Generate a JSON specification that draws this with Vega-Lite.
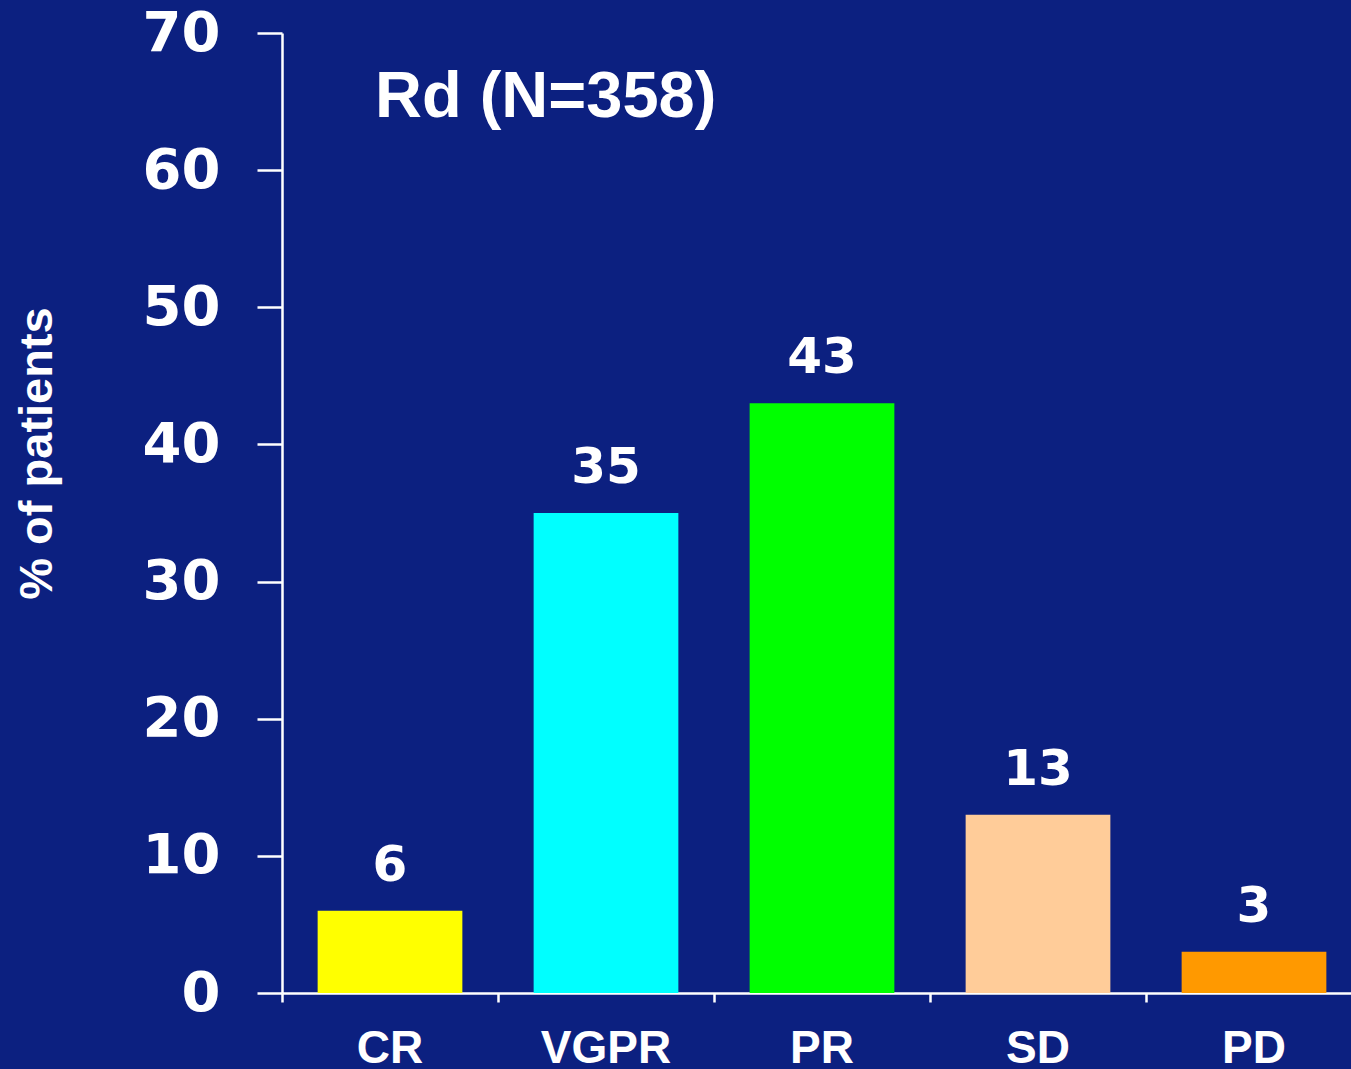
{
  "$schema": "https://vega.github.io/schema/vega-lite/v6.json",
  "autosize": {"type": "none"},
  "padding": {"left": 282, "top": 33, "right": 0, "bottom": 76},
  "width": 1069,
  "height": 960,
  "background": "#0c2080",
  "config": {"view": {"stroke": null}},
  "data": {
    "values": [
      {"response": "CR", "pct": 6},
      {"response": "VGPR", "pct": 35},
      {"response": "PR", "pct": 43},
      {"response": "SD", "pct": 13},
      {"response": "PD", "pct": 3}
    ]
  },
  "encoding": {
    "x": {
      "field": "response",
      "type": "nominal",
      "sort": null,
      "scale": {"paddingInner": 0, "paddingOuter": 0, "range": [0, 1080]},
      "axis": {
        "title": null,
        "labelAngle": 0,
        "bandPosition": 0,
        "domainColor": "white",
        "domainWidth": 2.5,
        "tickColor": "white",
        "tickWidth": 2.5,
        "tickSize": 9,
        "labelFont": "Liberation Sans",
        "labelFontSize": 46,
        "labelFontWeight": "bold",
        "labelColor": "white",
        "labelBaseline": "alphabetic",
        "labelPadding": 60
      }
    },
    "y": {
      "field": "pct",
      "type": "quantitative",
      "scale": {"domain": [0, 70], "nice": false},
      "axis": {
        "title": "% of patients",
        "values": [0, 10, 20, 30, 40, 50, 60, 70],
        "grid": false,
        "domainColor": "white",
        "domainWidth": 2.5,
        "tickColor": "white",
        "tickWidth": 2.5,
        "tickSize": 25,
        "labelFont": "DejaVu Sans",
        "labelFontSize": 56,
        "labelFontWeight": "bold",
        "labelColor": "white",
        "labelPadding": 37,
        "titleFont": "Liberation Sans",
        "titleFontSize": 47,
        "titleFontWeight": "bold",
        "titleColor": "white",
        "titleAngle": -90,
        "titleAlign": "center",
        "titleBaseline": "middle",
        "titleX": -245,
        "titleY": 420
      }
    }
  },
  "layer": [
    {
      "mark": {"type": "bar", "width": {"band": 0.67}},
      "encoding": {
        "color": {
          "field": "response",
          "type": "nominal",
          "legend": null,
          "scale": {
            "domain": ["CR", "VGPR", "PR", "SD", "PD"],
            "range": ["#ffff00", "#00ffff", "#00ff00", "#ffcc99", "#ff9900"]
          }
        }
      }
    },
    {
      "mark": {
        "type": "text",
        "dy": -30,
        "baseline": "alphabetic",
        "align": "center",
        "font": "DejaVu Sans",
        "fontSize": 50,
        "fontWeight": "bold",
        "color": "white"
      },
      "encoding": {"text": {"field": "pct", "type": "quantitative"}}
    },
    {
      "data": {"values": [{"response": "CR", "pct": 63.9, "label": "Rd (N=358)"}]},
      "mark": {
        "type": "text",
        "align": "left",
        "baseline": "alphabetic",
        "dx": -15,
        "font": "Liberation Sans",
        "fontSize": 65,
        "fontWeight": "bold",
        "color": "white"
      },
      "encoding": {
        "text": {"field": "label", "type": "nominal"}
      }
    }
  ]
}
